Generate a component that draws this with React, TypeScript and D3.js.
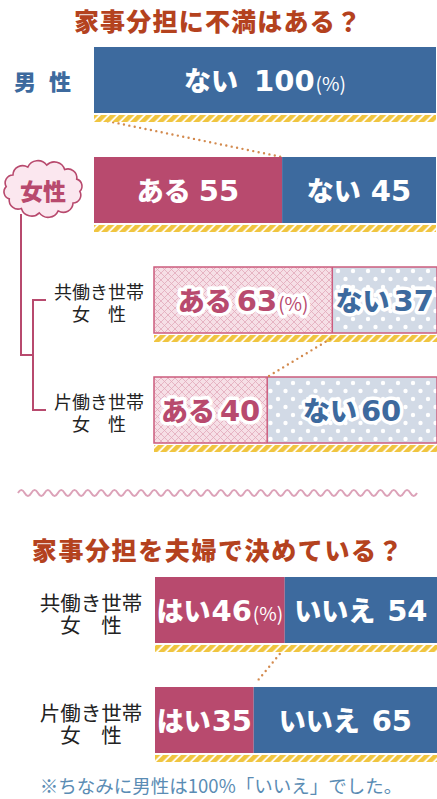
import React from 'react';
import * as d3 from 'd3';

// question 1: 家事分担に不満はある？
const q1Groups = ['男性', '女性'];
const q1Aru = [0, 55];
const q1Nai = [100, 45];

const subGroups = ['共働き世帯', '片働き世帯'];
const subAru = [63, 40];
const subNai = [37, 60];

// question 2: 家事分担を夫婦で決めている？
const q2Groups = ['共働き世帯', '片働き世帯'];
const q2Hai = [46, 35];
const q2Iie = [54, 65];

const titles = ['家事分担に不満はある？', '家事分担を夫婦で決めている？'];
const footnote = '※ちなみに男性は100%「いいえ」でした。';

const W = 437;
const H = 799;
const barH = 66;
const JP = "'Noto Sans CJK JP', 'Noto Sans', sans-serif";
const NUM = "'DejaVu Sans', sans-serif";

const PINK = '#b84a6e';
const BLUE = '#3d6a9e';
const TITLE = '#b4421e';

type Row = { g: string; a: number; b: number };

const topRows = [...q1Groups, ...subGroups];
const yTop = d3.scalePoint<string>().domain(topRows).range([47, 377]);
const yQ2 = d3.scalePoint<string>().domain(q2Groups).range([577, 687]);
const xMain = d3.scaleLinear().domain([0, 100]).range([94, 436]);
const xSub = d3.scaleLinear().domain([0, 100]).range([154, 437]);
const xQ2 = d3.scaleLinear().domain([0, 100]).range([155, 437]);

const stack = d3.stack<Row>().keys(['a', 'b']);

const q1Rows: Row[] = q1Groups.map((g, i) => ({ g, a: q1Aru[i], b: q1Nai[i] }));
const subRows: Row[] = subGroups.map((g, i) => ({ g, a: subAru[i], b: subNai[i] }));
const q2Rows: Row[] = q2Groups.map((g, i) => ({ g, a: q2Hai[i], b: q2Iie[i] }));

function Label(props: {
  x: number; y: number; kana: string; value: number; pct: boolean;
  gap: number; fill: string; outline?: boolean;
}) {
  const { x, y, kana, value, pct, gap, fill, outline } = props;
  return (
    <text
      x={x}
      y={y + 10.5}
      textAnchor="middle"
      fill={fill}
      fontWeight={700}
      stroke={outline ? '#fff' : 'none'}
      strokeWidth={outline ? 7 : 0}
      strokeLinejoin="round"
      style={{ paintOrder: 'stroke' }}
    >
      <tspan fontFamily={JP} fontSize={27} fontWeight={900}>{kana}</tspan>
      <tspan fontFamily={NUM} fontSize={29} dx={gap}>{value}</tspan>
      {pct && <tspan fontFamily={JP} fontSize={19} fontWeight={400} dx={1}>(%)</tspan>}
    </text>
  );
}

function StackedBar(props: {
  row: Row; i: number; x: d3.ScaleLinear<number, number>; top: number;
  fills: string[]; kana: string[]; colors: string[]; gaps: number[];
  pct: boolean; outline?: boolean; border?: string;
}) {
  const { row, i, x, top, fills, kana, colors, gaps, pct, outline, border } = props;
  const series = stack([row]);
  let pctUsed = false;
  return (
    <g>
      {series.map((s, k) => {
        const [v0, v1] = s[0];
        if (v1 - v0 <= 0) return null;
        return (
          <rect key={'r' + k} x={x(v0)} y={top} width={x(v1) - x(v0)} height={barH} fill={fills[k]} />
        );
      })}
      {border && (
        <rect x={x(0)} y={top} width={x(100) - x(0)} height={barH} fill="none" stroke={border} strokeWidth={1.5} />
      )}
      {border && (
        <line x1={x(row.a)} x2={x(row.a)} y1={top} y2={top + barH} stroke={border} strokeWidth={1.5} />
      )}
      <rect x={x(0)} y={top + barH + 2} width={x(100) - x(0)} height={7} fill="url(#stripe)" />
      {series.map((s, k) => {
        const [v0, v1] = s[0];
        if (v1 - v0 <= 0) return null;
        const showPct = pct && !pctUsed;
        pctUsed = true;
        return (
          <Label
            key={'l' + k + i}
            x={(x(v0) + x(v1)) / 2}
            y={top + barH / 2}
            kana={kana[k]}
            value={v1 - v0}
            pct={showPct}
            gap={gaps[k]}
            fill={colors[k]}
            outline={outline}
          />
        );
      })}
    </g>
  );
}

// two-line group name ("共働き世帯" / "女　性") as one text element
function GroupName(props: { x: number; cy: number; name: string; size: number; up: number; down: number }) {
  const { x, cy, name, size, up, down } = props;
  return (
    <text x={x} y={cy - up} textAnchor="middle" dominantBaseline="central" fontFamily={JP}
      fontSize={size} fill="#222">
      <tspan x={x}>{name}</tspan>
      <tspan x={x} dy={up + down}>女　性</tspan>
    </text>
  );
}

function cloudPath(cx: number, cy: number, rx: number, ry: number, n: number) {
  const pts = d3.range(n).map((k) => {
    const t = (k / n) * Math.PI * 2 + 0.1;
    return [cx + rx * Math.cos(t), cy + ry * Math.sin(t)];
  });
  let d = `M${pts[0][0]},${pts[0][1]}`;
  for (let k = 0; k < n; k++) {
    const p = pts[(k + 1) % n];
    const q = pts[k];
    const chord = Math.hypot(p[0] - q[0], p[1] - q[1]);
    d += ` A${chord * 0.58},${chord * 0.58} 0 0 1 ${p[0]},${p[1]}`;
  }
  return d + 'Z';
}

function wavePath(x0: number, x1: number, y: number, period: number, amp: number) {
  let d = `M${x0},${y}`;
  const half = period / 2;
  d += ` q${half / 2},${-amp * 2} ${half},0`;
  for (let x = x0 + half; x + half <= x1; x += half) {
    d += ` t${half},0`;
  }
  return d;
}

export default function App() {
  const q1Top = (g: string) => yTop(g)!;
  const subCenter = (g: string) => yTop(g)! + barH / 2;
  const midSub = (subCenter(subGroups[0]) + subCenter(subGroups[1])) / 2;

  return (
    <div style={{ position: 'absolute', left: 0, top: 0 }}>
      <svg width={W} height={H} viewBox={`0 0 ${W} ${H}`} style={{ display: 'block', background: '#fff' }}>
        <defs>
          <pattern id="stripe" width={9} height={9} patternUnits="userSpaceOnUse" patternTransform="skewX(-45)">
            <rect width={9} height={9} fill="#fff" />
            <rect width={6.5} height={9} fill="#f0c540" />
          </pattern>
          <pattern id="hatch" width={7} height={7} patternUnits="userSpaceOnUse">
            <rect width={7} height={7} fill="#f6dfe6" />
            <path d="M0,0 L7,7 M7,0 L0,7" stroke="#e2a9ba" strokeWidth={0.8} />
          </pattern>
          <pattern id="dots" width={15} height={16} patternUnits="userSpaceOnUse" x={154} y={267}>
            <rect width={15} height={16} fill="#d2dae6" />
            <circle cx={4} cy={4} r={2.2} fill="#fff" />
            <circle cx={11.5} cy={12} r={2.2} fill="#fff" />
          </pattern>
        </defs>

        {/* title 1 */}
        <text x={218} y={20} textAnchor="middle" dominantBaseline="central" fontFamily={JP} fontWeight={900}
          fontSize={25} letterSpacing={1.2} fill={TITLE}>{titles[0]}</text>

        {/* men */}
        <text x={14} y={q1Top('男性') + barH / 2} dominantBaseline="central" fontFamily={JP} fontWeight={900}
          fontSize={22} letterSpacing={13} fill={BLUE}>{q1Groups[0]}</text>

        {/* connector men -> women */}
        <line x1={xMain(0) + 3} y1={q1Top('男性') + barH + 6} x2={xMain(q1Aru[1])} y2={q1Top('女性')}
          stroke="#d38a4e" strokeWidth={2.4} strokeDasharray="0 5.5" strokeLinecap="round" />

        {q1Rows.map((row, i) => (
          <StackedBar key={row.g} row={row} i={i} x={xMain} top={q1Top(row.g)}
            fills={[PINK, BLUE]} kana={['ある', 'ない']} colors={['#fff', '#fff']}
            gaps={i === 0 ? [16, 16] : [8, 10]} pct={i === 0} />
        ))}

        {/* tree lines */}
        <g stroke={PINK} strokeWidth={2} fill="none">
          <line x1={21} x2={21} y1={214} y2={midSub} />
          <line x1={20} x2={33} y1={midSub} y2={midSub} />
          <line x1={33} x2={33} y1={subCenter(subGroups[0])} y2={subCenter(subGroups[1])} />
          <line x1={32} x2={46} y1={subCenter(subGroups[0])} y2={subCenter(subGroups[0])} />
          <line x1={32} x2={46} y1={subCenter(subGroups[1])} y2={subCenter(subGroups[1])} />
        </g>

        {/* women cloud */}
        <path d={cloudPath(43, 189, 37, 24, 12)} fill="#fbe7ef" stroke={PINK} strokeWidth={1.6} />
        <text x={43} y={190} textAnchor="middle" dominantBaseline="central" fontFamily={JP} fontWeight={900}
          fontSize={23} fill={PINK}>{q1Groups[1]}</text>

        {/* sub groups */}
        {subRows.map((row, i) => (
          <g key={row.g}>
            <GroupName x={99} cy={subCenter(row.g)} name={row.g} size={18} up={9} down={13} />
            <StackedBar row={row} i={i} x={xSub} top={yTop(row.g)!}
              fills={['url(#hatch)', 'url(#dots)']} kana={['ある', 'ない']} colors={[PINK, BLUE]}
              gaps={[5, 4]} pct={i === 0} outline border="#cc5c7e" />
          </g>
        ))}
        <line x1={xSub(subAru[0]) - 2} y1={yTop(subGroups[0])! + barH + 6} x2={xSub(subAru[1])} y2={yTop(subGroups[1])!}
          stroke="#d38a4e" strokeWidth={2.4} strokeDasharray="0 5.5" strokeLinecap="round" />

        {/* divider */}
        <path d={wavePath(18, 418, 493, 13.3, 3)} fill="none" stroke="#dca2b8" strokeWidth={2} />

        {/* title 2 */}
        <text x={218} y={549} textAnchor="middle" dominantBaseline="central" fontFamily={JP} fontWeight={900}
          fontSize={25} letterSpacing={1.6} fill={TITLE}>{titles[1]}</text>

        {q2Rows.map((row, i) => (
          <g key={'q2' + row.g}>
            <GroupName x={91} cy={yQ2(row.g)! + barH / 2} name={row.g} size={20.5} up={8} down={14} />
            <StackedBar row={row} i={i} x={xQ2} top={yQ2(row.g)!}
              fills={[PINK, BLUE]} kana={['はい', 'いいえ']} colors={['#fff', '#fff']}
              gaps={[1, 12]} pct={i === 0} />
          </g>
        ))}
        <line x1={xQ2(q2Hai[0]) - 5} y1={yQ2(q2Groups[0])! + barH + 11} x2={xQ2(q2Hai[1]) + 2} y2={yQ2(q2Groups[1])! - 4}
          stroke="#d38a4e" strokeWidth={2.4} strokeDasharray="0 5.5" strokeLinecap="round" />

        {/* footnote */}
        <text x={221} y={785} textAnchor="middle" dominantBaseline="central" fontFamily={JP}
          fontSize={18.5} fill="#5a8cb4">{footnote}</text>
      </svg>
    </div>
  );
}
